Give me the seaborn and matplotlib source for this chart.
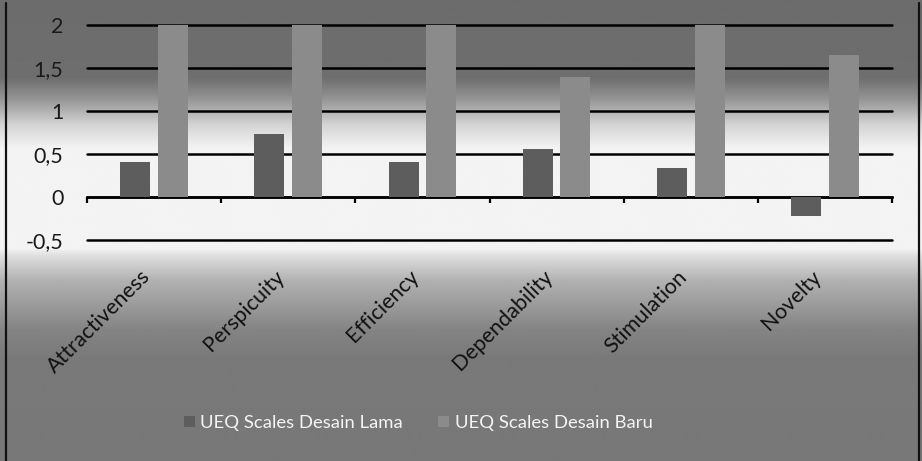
import numpy as np
import pandas as pd
import matplotlib
matplotlib.use("Agg")
import matplotlib.pyplot as plt
from matplotlib.lines import Line2D
import seaborn as sns

scales = ["Attractiveness", "Perspicuity", "Efficiency", "Dependability", "Stimulation", "Novelty"]
lama = [0.41, 0.73, 0.41, 0.56, 0.34, -0.22]
baru = [2.0, 2.0, 2.0, 1.40, 2.0, 1.65]
series = ["UEQ Scales Desain Lama", "UEQ Scales Desain Baru"]
yticks = [-0.5, 0, 0.5, 1, 1.5, 2]
ytick_labels = ["-0,5", "0", "0,5", "1", "1,5", "2"]

df = pd.DataFrame({
    "scale": scales * 2,
    "value": lama + baru,
    "series": [series[0]] * len(scales) + [series[1]] * len(scales),
})

sns.set_style("white")
plt.rcParams["font.family"] = ["Lato", "DejaVu Sans"]

W, H = 922, 461
fig = plt.figure(figsize=(W / 100, H / 100), dpi=100)

# gradient background (dark - white band - gray)
rows = np.arange(H)
stops_y = [0, 78, 100, 125, 148, 248, 256, 280, 330, 360, H]
stops_v = [108, 110, 150, 212, 243, 244, 222, 178, 132, 121, 120]
col = np.interp(rows, stops_y, stops_v)
grad = np.tile(col[:, None], (1, 10))
bg = fig.add_axes([0, 0, 1, 1], zorder=-1)
bg.imshow(grad, aspect="auto", cmap="gray", vmin=0, vmax=255, extent=(0, 1, 0, 1))
bg.axis("off")

ax = fig.add_axes([87 / W, 1 - 240 / H, 805 / W, 215 / H])
ax.set_facecolor("none")

sns.barplot(data=df, x="scale", y="value", hue="series",
            palette={series[0]: "#5d5d5d", series[1]: "#8b8b8b"},
            width=0.56, gap=0.2, saturation=1, linewidth=0, ax=ax, zorder=3)

ax.set_xlim(-0.5, len(scales) - 0.5)
ax.set_ylim(-0.5, 2)
ax.set_yticks(yticks)
ax.set_yticklabels(ytick_labels)
ax.yaxis.grid(True, color="black", linewidth=1.8, zorder=1)
ax.set_axisbelow(True)
for gl in ax.get_ygridlines():
    gl.set_clip_on(False)
for s in ["top", "right", "left"]:
    ax.spines[s].set_visible(False)
ax.spines["bottom"].set_position(("data", 0))
ax.spines["bottom"].set_linewidth(1.8)
ax.spines["bottom"].set_color("black")
ax.set_xlabel("")
ax.set_ylabel("")

ax.tick_params(axis="y", length=0, pad=17, labelsize=15.5, labelcolor="#1a1a1a")
ax.tick_params(axis="x", which="major", bottom=True, length=0, pad=50,
               labelsize=15.5, labelcolor="#111111")
ax.set_xticks(np.arange(-0.5, len(scales)), minor=True)
ax.tick_params(axis="x", which="minor", bottom=True, length=4.5, width=1.6,
               direction="out", color="black")
for lab in ax.get_xticklabels():
    lab.set_rotation(45)
    lab.set_ha("right")
    lab.set_va("top")

sns.move_legend(ax, "center", bbox_to_anchor=((418 - 87) / 805, (240 - 423) / 215),
                ncol=2, frameon=False, title=None, fontsize=13.3,
                handlelength=0.6, handleheight=0.6, handletextpad=0.3,
                columnspacing=1.9)
for t in ax.get_legend().get_texts():
    t.set_color("#f4f4f4")

# outer border lines
fig.add_artist(Line2D([5.5 / W, 5.5 / W], [0, 1 - 3 / H], color="#111111", linewidth=1.6))
fig.add_artist(Line2D([918.5 / W, 918.5 / W], [0, 1 - 3 / H], color="#111111", linewidth=1.6))

fig.savefig("out.png", dpi=100)
